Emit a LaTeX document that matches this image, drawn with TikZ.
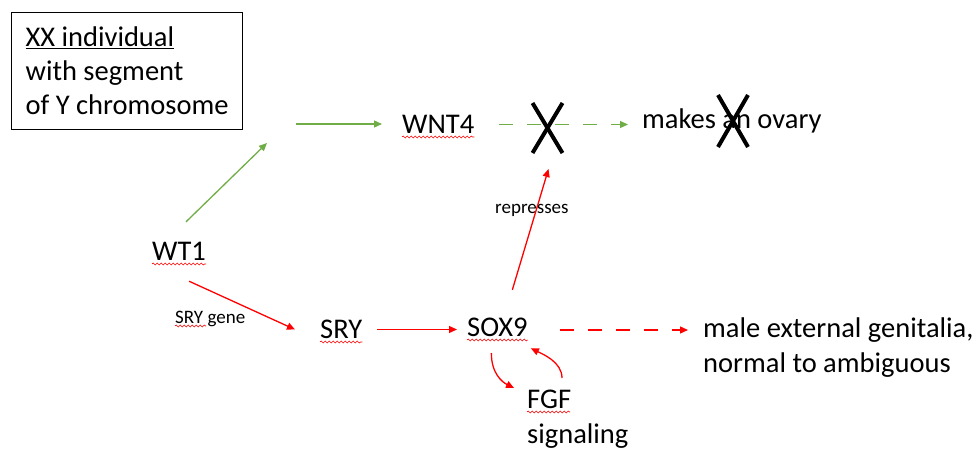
\documentclass[tikz,border=0pt]{standalone}
\usepackage{fontspec}
\setmainfont{Carlito}
\usetikzlibrary{arrows.meta,calc,decorations.pathmorphing}
\definecolor{officegreen}{HTML}{70AD47}
\definecolor{wordred}{HTML}{FF0000}
\newcommand{\bigfont}{\fontsize{28.5}{35}\selectfont}
\newcommand{\smallfont}{\fontsize{19}{23}\selectfont}

\begin{document}
\begin{tikzpicture}[x=1pt,y=-1pt,
  gene/.style={inner sep=0pt,anchor=base west,font=\bigfont,text height=20pt,text depth=3pt},
  multiline/.style={inner sep=0pt,anchor=base west,font=\bigfont,align=left},
  smalltext/.style={inner sep=0pt,anchor=base west,font=\smallfont},
  greenarrow/.style={color=officegreen,line width=1.3pt,-{Triangle[length=8pt,width=7pt]}},
  redarrow/.style={color=wordred,line width=1.3pt,-{Triangle[length=8pt,width=7pt]}},
  longdash/.style={dash pattern=on 14pt off 14pt},
  squiggle/.style={wordred,line width=0.6pt,decorate,decoration={snake,amplitude=1pt,segment length=4pt}},
  xmark/.style={line width=4pt}]
  % page size of the screenshot
  \useasboundingbox (0,0) rectangle (978,450);

  % boxed title top left
  \node[draw,line width=1.2pt,anchor=north west,minimum width=231pt,minimum height=117pt,
        inner sep=0pt,align=left,font=\fontsize{28.5}{34}\selectfont] (title) at (11,12)
        {\underline{XX individual}\\with segment\\of Y chromosome};

  % genes and outcomes (multiline nodes sit on their last line)
  \node[gene] (wt1) at (152,260) {WT1};
  \node[gene] (wnt4) at (402,133) {WNT4};
  \node[gene] (ovary) at (642,128) {makes an ovary};
  \node[gene] (sry) at (320,338) {SRY};
  \node[gene] (sox9) at (467,336) {SOX9};
  \node[multiline] (male) at (703,372) {male external genitalia,\\normal to ambiguous};
  \node[multiline] (fgf) at (527,443) {FGF\\signaling};

  % small labels
  \node[smalltext] (srygene) at (175,323) {SRY gene};
  \node[smalltext] (repress) at (495,213) {represses};

  % free ends and centres of the crosses
  \coordinate (up1) at (267,143);
  \coordinate (up2) at (296,124);
  \coordinate (cross1) at (547.5,128);
  \coordinate (cross2) at (733,121);

  % ovary pathway (green)
  \draw[greenarrow] ($(wt1.north)+(7,-18)$) -- (up1);
  \draw[greenarrow,shorten >=20pt] (up2) -- (up2 -| wnt4.west);
  \draw[greenarrow,longdash,shorten <=25pt,shorten >=14pt] (wnt4.east) -- (wnt4.east -| ovary.west);

  % testis pathway (red)
  \draw[redarrow] ($(wt1.south)+(10,18)$) -- ($(sry.west)+(-25,0)$);
  \draw[redarrow,shorten <=15pt,shorten >=10pt] (sry.east) -- (sry.east -| sox9.west);
  \draw[redarrow,longdash,shorten <=32pt,shorten >=15pt] ($(sox9.east)+(0,2.5)$) -- ($(sox9.east -| male.west)+(0,2.5)$);
  \draw[redarrow] ($(sox9.north)+(15,-26)$) -- ($(cross1)+(1,41)$);

  % feedback loop with FGF
  \draw[redarrow] ($(sox9.south)+(-6,14)$)
     .. controls +(0,20) and +(-12,-6) .. ($(fgf.base west)+(-13,-55)$);
  \draw[redarrow] ($(fgf.base west)+(35,-65)$)
     .. controls +(0,-16) and +(12,6) .. ($(sox9.south)+(33.5,9)$);

  % spell check marks
  \draw[squiggle] ($(wt1.base west)+(0,4)$) -- ($(wt1.base east)+(0,4)$);
  \draw[squiggle] ($(wnt4.base west)+(0,4)$) -- ($(wnt4.base east)+(0,4)$);
  \draw[squiggle] ($(sry.base west)+(0,4)$) -- ($(sry.base east)+(0,4)$);
  \draw[squiggle] ($(sox9.base west)+(0,4)$) -- ($(sox9.base east)+(0,4)$);
  \draw[squiggle] ($(fgf.base west)+(0,-31)$) -- ++(43,0);
  \draw[squiggle] ($(srygene.base west)+(0,3)$) -- ++(31,0);

  % crossed out
  \draw[xmark] (cross1) ++(-15,-25) -- ++(30,50);
  \draw[xmark] (cross1) ++(15,-25) -- ++(-30,50);
  \draw[xmark] (cross2) ++(-15,-26) -- ++(30,52);
  \draw[xmark] (cross2) ++(15,-26) -- ++(-30,52);

\end{tikzpicture}
\end{document}
